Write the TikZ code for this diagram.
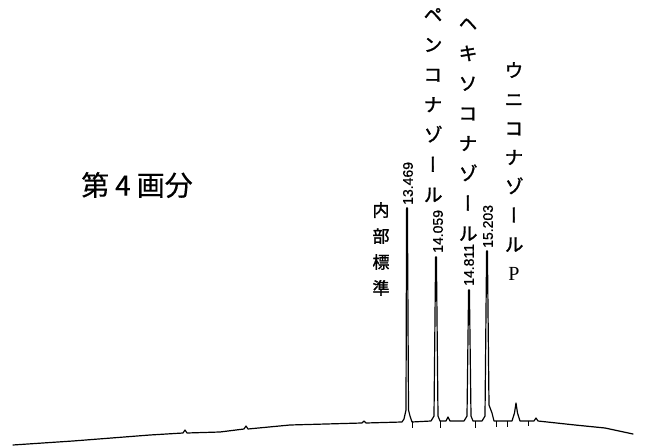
\documentclass[tikz,border=0pt]{standalone}
\usepackage{fontspec}
\usepackage{tikz}
\newfontfamily\jpfont[FakeBold=0.4]{Noto Sans CJK JP}
\newfontfamily\jpvfont[RawFeature=+vert, FakeBold=1.6]{Noto Sans CJK JP}
\newfontfamily\rtfont[FakeBold=0.8]{Liberation Sans}
\newfontfamily\pfont{Liberation Serif}

\begin{document}
\begin{tikzpicture}[x=1pt, y=-1pt,
                    trace/.style={line width=1.2pt, line join=round, line cap=round},
                    tick/.style={line width=0.9pt},
                    rt/.style={font=\rtfont\fontsize{14}{14}\selectfont, rotate=90, anchor=west, inner sep=0pt},
                    cmpd/.style={font=\jpvfont\fontsize{19}{30}\selectfont, align=center, anchor=north, inner sep=0pt}]
    \useasboundingbox (0,0) rectangle (649,446);

   % fraction title
   \node[font=\jpfont\fontsize{28}{28}\selectfont, inner sep=0pt] (title) at (137,185) {第\hspace{6pt}4\hspace{6pt}画分};

   % compound names (vertical)
   \node[cmpd] (penco) at (433,8) {ペ\\ン\\コ\\ナ\\ゾ\\ー\\ル};
   \node[cmpd] (hexa) at (468,18) {ヘ\\キ\\ソ\\コ\\ナ\\ゾ\\ー\\ル};
   \node[cmpd, font=\jpvfont\fontsize{19}{29}\selectfont] (unico) at (514,62) {ウ\\ニ\\コ\\ナ\\ゾ\\ー\\ル\\{\pfont\fontsize{20}{29}\selectfont P}};
   \node[cmpd, font=\jpvfont\fontsize{17}{26}\selectfont] (istd) at (381,202) {内\\部\\標\\準};

   % retention times
   \node[rt] (rt1) at (408,205) {13.469};
   \node[rt] (rt2) at (438,253) {14.059};
   \node[rt] (rt3) at (469,286) {14.811};
   \node[rt] (rt4) at (488,248) {15.203};

   % chromatogram trace
   \draw[trace] (13,445) -- (73,441) -- (150,435) -- (183,433) -- (185,430) -- (187,433)
      -- (220,432) -- (244,429) -- (246,426) -- (248,429) -- (290,425) -- (362,423)
      -- (364,421) -- (366,423) -- (402,422)
      -- (404,419) -- (406,410) -- (406.6,208) -- (407.4,208) -- (408.5,410) -- (410,416) -- (412,422)
      -- (431,421) -- (434,416) -- (435.6,257) -- (436.4,257) -- (438,416) -- (440,421)
      -- (446,421) -- (448,417) -- (450,421) -- (464,421)
      -- (467,416) -- (468.6,290) -- (469.4,290) -- (471,416) -- (473,421) -- (482,421)
      -- (485,416) -- (486.6,251) -- (487.4,251) -- (489,405) -- (492,413) -- (494,421)
      -- (512,421) -- (514.5,413) -- (516,403) -- (517.5,413) -- (520,421)
      -- (534,421) -- (536,418) -- (538,421) -- (575,425) -- (605,428) -- (633,434);

   % integrator ticks
   \draw[tick] (412,421) -- (412,428);
   \draw[tick] (440,421) -- (440,428);
   \draw[tick] (475,421) -- (475,428);
   \draw[tick] (496,421) -- (496,427);
   \draw[tick] (507,421) -- (507,427);
   \draw[tick] (528,421) -- (528,426);

\end{tikzpicture}
\end{document}
